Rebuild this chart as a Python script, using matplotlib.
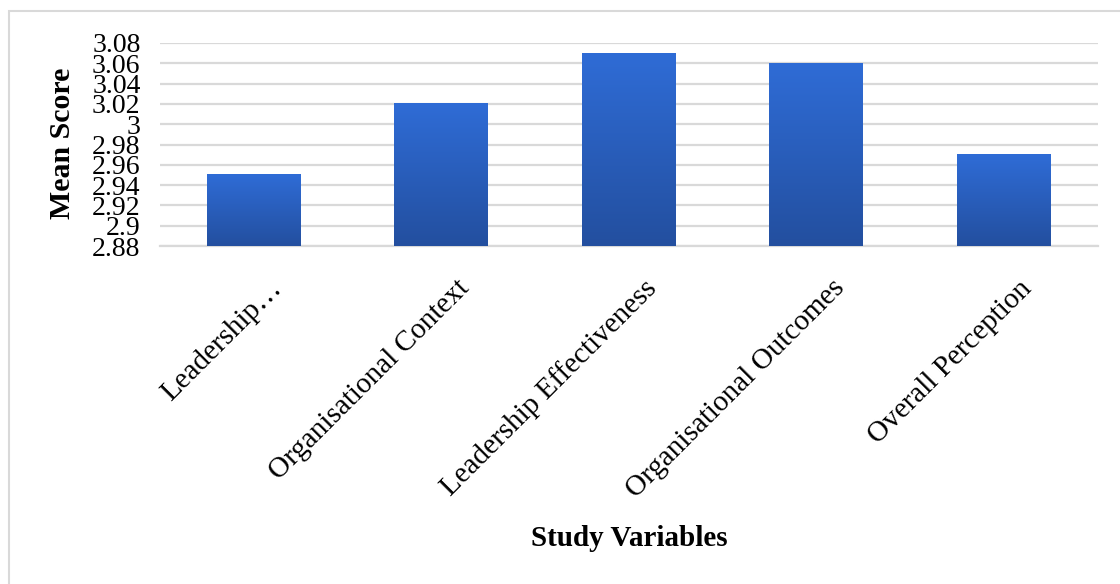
import matplotlib.pyplot as plt
import matplotlib.transforms as mtransforms
from matplotlib.colors import LinearSegmentedColormap
from matplotlib.patches import Rectangle
import numpy as np

variables = ['Leadership…', 'Organisational Context', 'Leadership Effectiveness',
             'Organisational Outcomes', 'Overall Perception']
mean_scores = [2.95, 3.02, 3.07, 3.06, 2.97]
y_ticks = [2.88, 2.90, 2.92, 2.94, 2.96, 2.98, 3.00, 3.02, 3.04, 3.06, 3.08]

plt.rcParams['font.family'] = ['Liberation Serif', 'DejaVu Serif']

fig = plt.figure(figsize=(11.2, 5.84), dpi=100)
ax = fig.add_axes([160 / 1120, 1 - 246 / 584, 937.5 / 1120, 203 / 584])

# marco gris claro alrededor del gráfico
marco = Rectangle((9 / 1120, -0.1), 1.2, 1.1 - 11 / 584,
                  transform=fig.transFigure, fill=False,
                  edgecolor='#d9d9d9', linewidth=1.5)
fig.add_artist(marco)

x = np.arange(len(variables))
barras = ax.bar(x, mean_scores, width=0.5, bottom=0, color='none', zorder=3)

degradado = LinearSegmentedColormap.from_list('azul', ['#234f9f', '#2f6cd6'])
grad = np.linspace(0, 1, 256).reshape(-1, 1)
for b in barras:
    x0 = b.get_x()
    ax.imshow(grad, extent=[x0, x0 + b.get_width(), 2.88, b.get_height()],
              origin='lower', aspect='auto', cmap=degradado, zorder=3)

ax.set_xlim(-0.5, len(variables) - 0.5)
ax.set_ylim(2.88, 3.08)

ax.set_yticks(y_ticks, [f'{v:g}' for v in y_ticks], fontsize=20)
ax.yaxis.grid(True, color='#d9d9d9', linewidth=1.6, zorder=0)
ax.set_axisbelow(True)
ax.tick_params(axis='both', length=0, pad=14)
ax.tick_params(axis='y', pad=14)

ax.set_xticks(x, variables, fontsize=21, rotation=45, ha='right', va='center',
              rotation_mode='anchor')
desplazamiento = mtransforms.ScaledTranslation(24 / 100, -19 / 100, fig.dpi_scale_trans)
for etiqueta in ax.get_xticklabels():
    etiqueta.set_transform(etiqueta.get_transform() + desplazamiento)

for lado in ['top', 'right', 'left']:
    ax.spines[lado].set_visible(False)
ax.spines['bottom'].set_color('#d9d9d9')
ax.spines['bottom'].set_linewidth(1.6)

fig.text(62 / 1120, 1 - 143 / 584, 'Mean Score', rotation=90, fontsize=21.5,
         fontweight='bold', ha='center', va='center')
fig.text(629 / 1120, 1 - 539 / 584, 'Study Variables', fontsize=21,
         fontweight='bold', ha='center', va='center')

fig.savefig('out.png', dpi=100, facecolor='white')
